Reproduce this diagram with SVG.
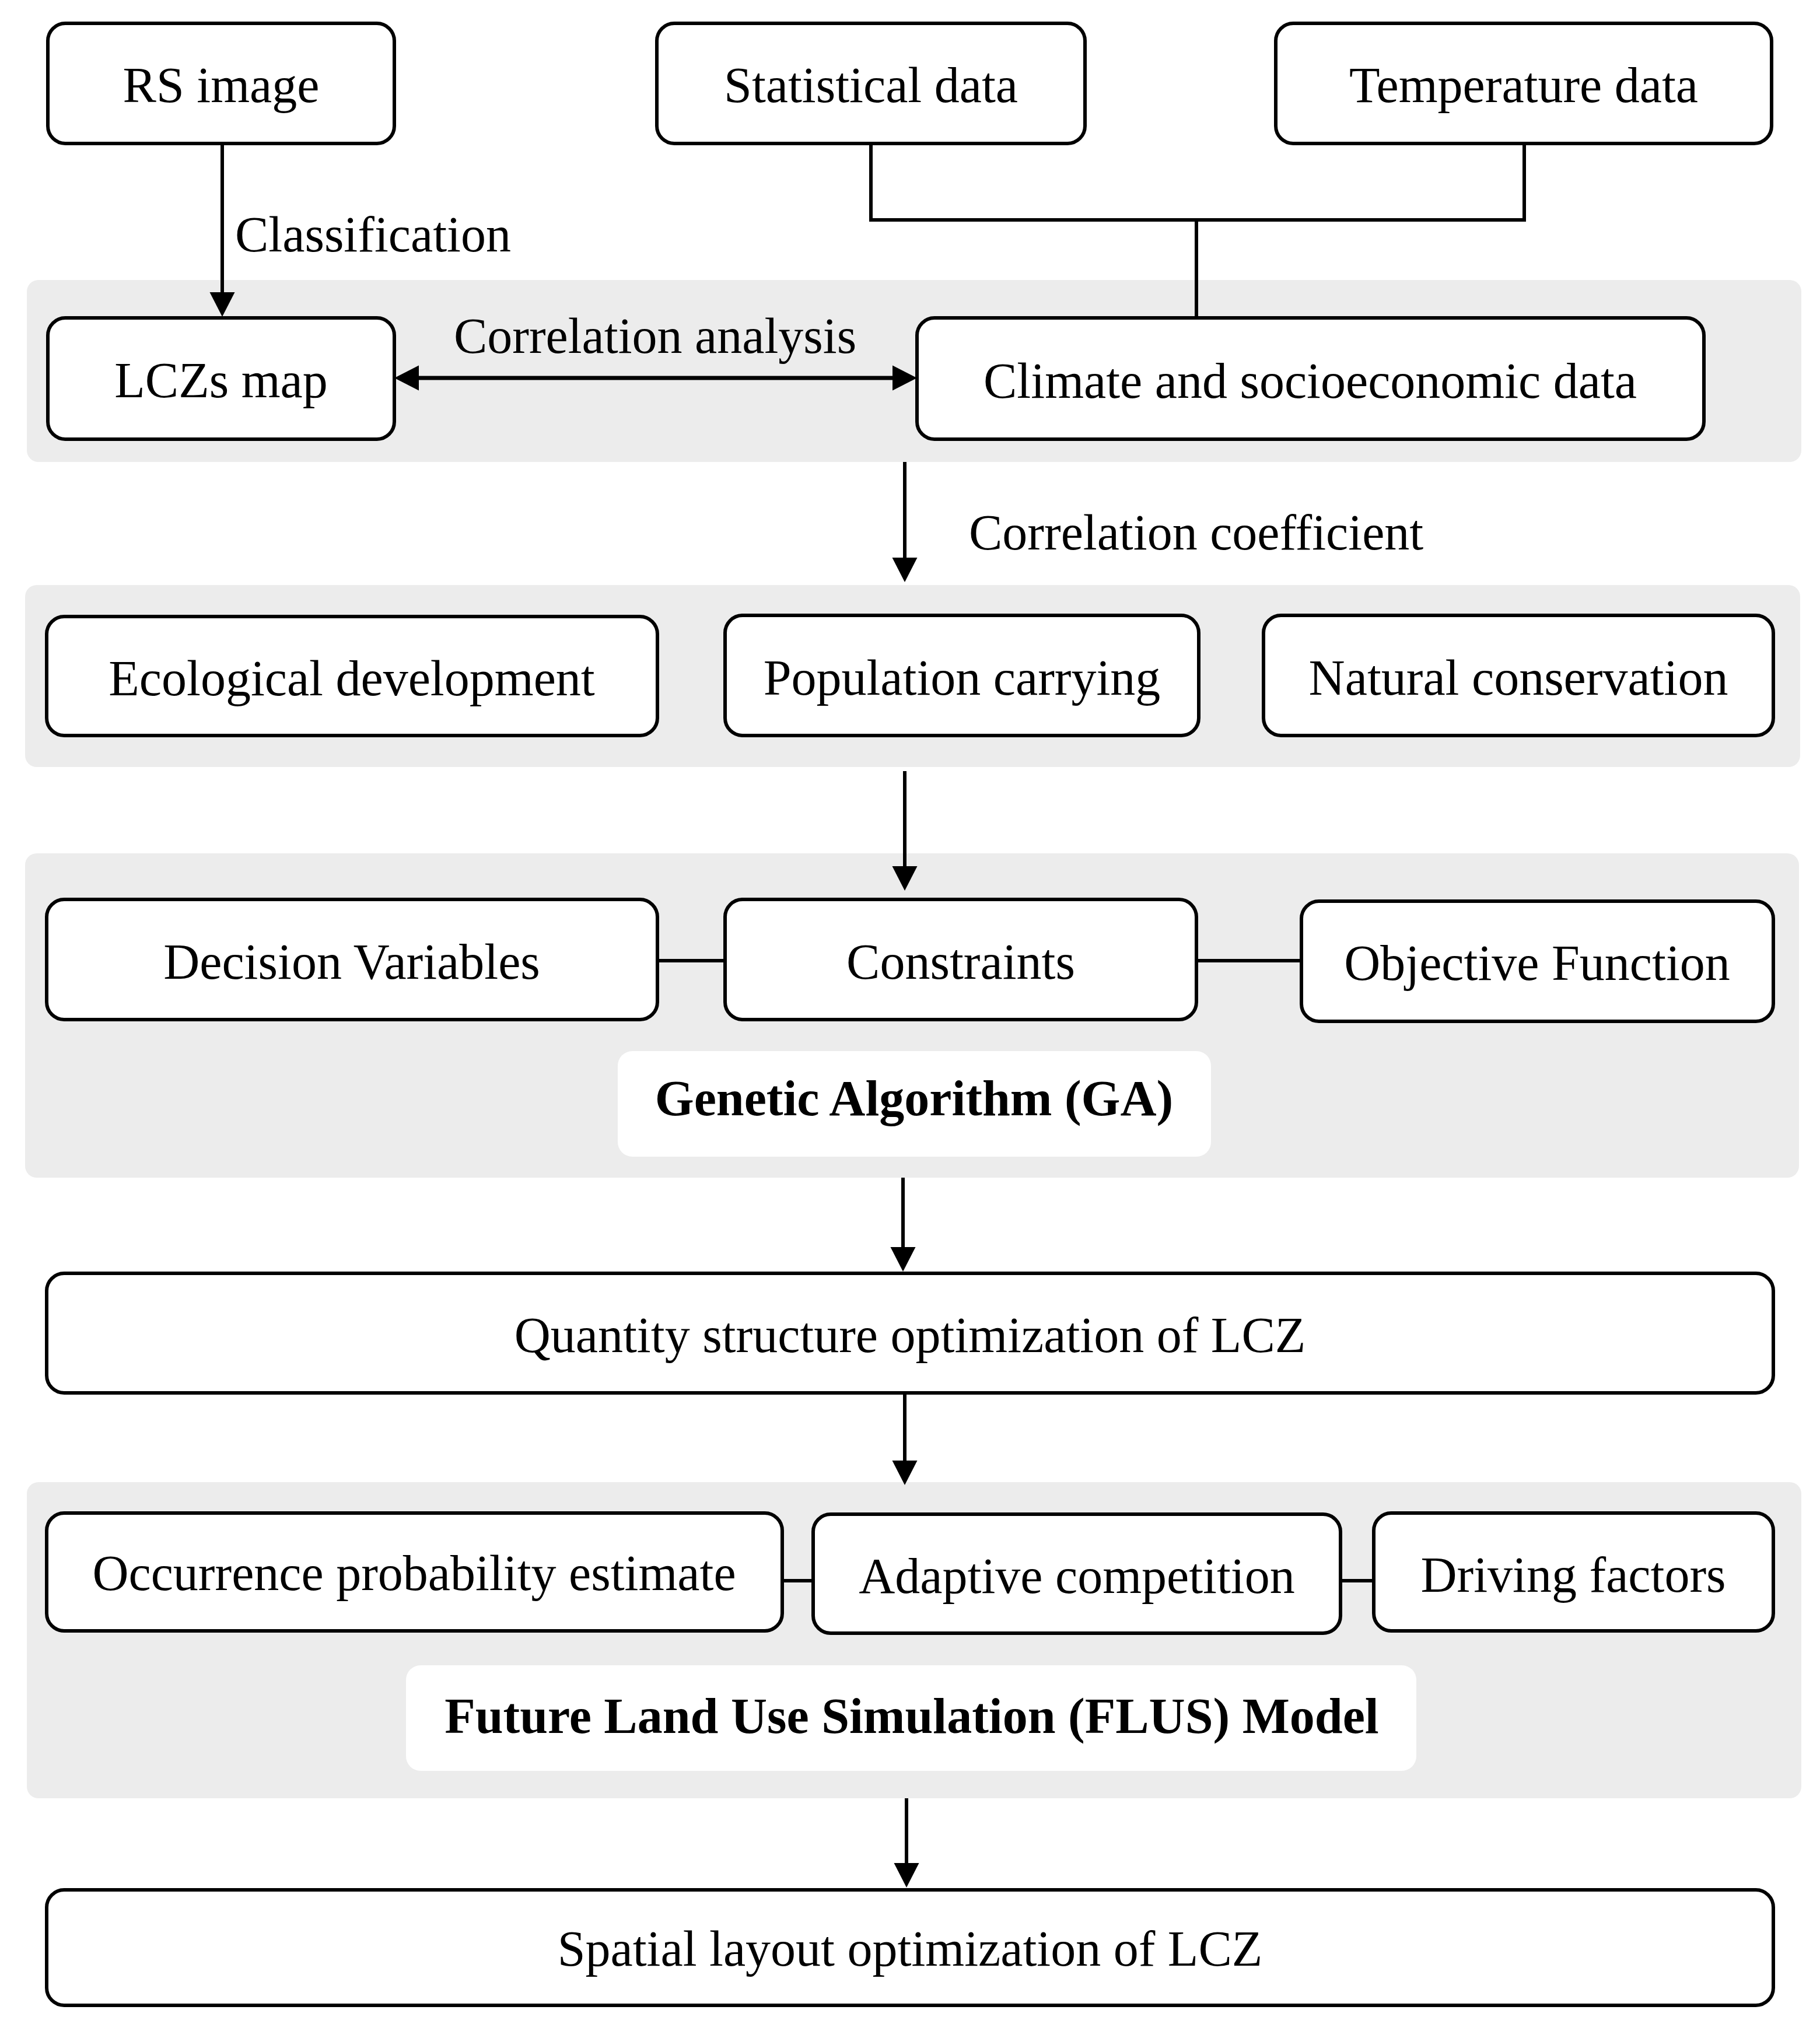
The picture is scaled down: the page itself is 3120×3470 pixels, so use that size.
<svg xmlns="http://www.w3.org/2000/svg" width="3120" height="3470" viewBox="0 0 3120 3470">
<defs>
<style>
.band{fill:#ececec;stroke:none}
.box{fill:#ffffff;stroke:#000;stroke-width:6}
.lab{fill:#ffffff;stroke:none}
.t{font-family:"Liberation Serif","Times New Roman",serif;font-size:86px;fill:#000;text-anchor:middle}
.ts{font-family:"Liberation Serif","Times New Roman",serif;font-size:86px;fill:#000}
.tb{font-family:"Liberation Serif","Times New Roman",serif;font-size:86px;font-weight:bold;fill:#000;text-anchor:middle}
.ln{fill:none;stroke:#000;stroke-width:6}
.ar{fill:none;stroke:#000;stroke-width:6;marker-end:url(#ah)}
</style>
<marker id="ah" markerUnits="userSpaceOnUse" markerWidth="44" markerHeight="44" refX="0" refY="21.5" orient="auto-start-reverse" viewBox="0 0 44 43">
<path d="M0,0 L42,21.5 L0,43 Z" fill="#000"/>
</marker>
</defs>

<g id="bands">
<rect class="band" x="46" y="480" width="3042" height="312" rx="20"/>
<rect class="band" x="43" y="1003" width="3043" height="312" rx="20"/>
<rect class="band" x="43" y="1463" width="3041" height="556" rx="20"/>
<rect class="band" x="46" y="2541" width="3042" height="542" rx="20"/>
</g>

<g id="connectors">
<line class="ar" x1="381" y1="246" x2="381" y2="501"/>
<polyline class="ln" points="1493,246 1493,377 2613,377 2613,246"/>
<line class="ln" x1="2051" y1="377" x2="2051" y2="545"/>
<line x1="718" y1="648" x2="1530" y2="648" stroke="#000" stroke-width="7" marker-start="url(#ah)" marker-end="url(#ah)"/>
<line class="ar" x1="1551" y1="792" x2="1551" y2="956"/>
<line class="ar" x1="1551" y1="1322" x2="1551" y2="1485"/>
<line class="ln" x1="1127" y1="1647" x2="1243" y2="1647"/>
<line class="ln" x1="2051" y1="1647" x2="2231" y2="1647"/>
<line class="ar" x1="1548" y1="2019" x2="1548" y2="2138"/>
<line class="ar" x1="1551" y1="2388" x2="1551" y2="2504"/>
<line class="ln" x1="1341" y1="2710" x2="1394" y2="2710"/>
<line class="ln" x1="2298" y1="2710" x2="2355" y2="2710"/>
<line class="ar" x1="1554" y1="3083" x2="1554" y2="3194"/>
</g>

<g id="edge-labels">
<text class="ts" x="403" y="431">Classification</text>
<text class="t" x="1123" y="605">Correlation analysis</text>
<text class="ts" x="1661" y="942">Correlation coefficient</text>
</g>

<g id="rs-image"><rect class="box" x="82" y="40" width="594" height="206" rx="30"/><text class="t" x="379" y="175">RS image</text></g>
<g id="statistical-data"><rect class="box" x="1126" y="40" width="734" height="206" rx="30"/><text class="t" x="1493" y="175">Statistical data</text></g>
<g id="temperature-data"><rect class="box" x="2187" y="40" width="850" height="206" rx="30"/><text class="t" x="2612" y="175">Temperature data</text></g>

<g id="lczs-map"><rect class="box" x="82" y="545" width="594" height="208" rx="30"/><text class="t" x="379" y="681">LCZs map</text></g>
<g id="climate-data"><rect class="box" x="1572" y="545" width="1349" height="208" rx="30"/><text class="t" x="2246" y="682">Climate and socioeconomic data</text></g>

<g id="ecological-development"><rect class="box" x="80" y="1057" width="1047" height="204" rx="30"/><text class="t" x="603" y="1192">Ecological development</text></g>
<g id="population-carrying"><rect class="box" x="1243" y="1055" width="812" height="206" rx="30"/><text class="t" x="1649" y="1191">Population carrying</text></g>
<g id="natural-conservation"><rect class="box" x="2166" y="1055" width="874" height="206" rx="30"/><text class="t" x="2603" y="1191">Natural conservation</text></g>

<g id="decision-variables"><rect class="box" x="80" y="1542" width="1047" height="206" rx="30"/><text class="t" x="603" y="1678">Decision Variables</text></g>
<g id="constraints"><rect class="box" x="1243" y="1542" width="808" height="206" rx="30"/><text class="t" x="1647" y="1678">Constraints</text></g>
<g id="objective-function"><rect class="box" x="2231" y="1545" width="809" height="206" rx="30"/><text class="t" x="2635" y="1680">Objective Function</text></g>
<g id="ga-label"><rect class="lab" x="1059" y="1802" width="1017" height="181" rx="25"/><text class="tb" x="1567" y="1912">Genetic Algorithm (GA)</text></g>

<g id="quantity-structure"><rect class="box" x="80" y="2183" width="2960" height="205" rx="30"/><text class="t" x="1560" y="2318">Quantity structure optimization of LCZ</text></g>

<g id="occurrence-probability"><rect class="box" x="80" y="2594" width="1261" height="202" rx="30"/><text class="t" x="710" y="2726">Occurrence probability estimate</text></g>
<g id="adaptive-competition"><rect class="box" x="1394" y="2596" width="904" height="204" rx="30"/><text class="t" x="1846" y="2731">Adaptive competition</text></g>
<g id="driving-factors"><rect class="box" x="2355" y="2594" width="685" height="202" rx="30"/><text class="t" x="2697" y="2729">Driving factors</text></g>
<g id="flus-label"><rect class="lab" x="696" y="2855" width="1732" height="181" rx="25"/><text class="tb" x="1563" y="2971">Future Land Use Simulation (FLUS) Model</text></g>

<g id="spatial-layout"><rect class="box" x="80" y="3240" width="2960" height="198" rx="30"/><text class="t" x="1560" y="3370">Spatial layout optimization of LCZ</text></g>
</svg>
